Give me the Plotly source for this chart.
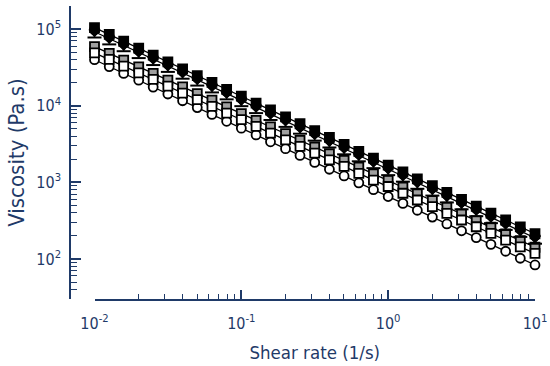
import plotly.graph_objects as go

shear_rate = [0.01, 0.0126, 0.0158, 0.02, 0.0251, 0.0316, 0.0398, 0.0501, 0.0631, 0.0794,
              0.1, 0.126, 0.158, 0.2, 0.251, 0.316, 0.398, 0.501, 0.631, 0.794,
              1, 1.26, 1.58, 2, 2.51, 3.16, 3.98, 5.01, 6.31, 7.94, 10]

black_square = [104700, 85200, 69300, 56400, 45800, 37300, 30300, 24700, 20100, 16300,
                13300, 10800, 8780, 7140, 5810, 4730, 3850, 3130, 2540, 2070,
                1680, 1370, 1110, 906, 737, 599, 487, 396, 322, 262, 213]
black_circle = [97700, 79500, 64700, 52600, 42700, 34800, 28300, 23000, 18800, 15200,
                12400, 10100, 8190, 6660, 5420, 4410, 3590, 2920, 2370, 1930,
                1570, 1280, 1040, 845, 688, 559, 454, 369, 300, 244, 199]
black_triangle = [92200, 75100, 61100, 49700, 40400, 32900, 26700, 21800, 17700, 14400,
                  11700, 9510, 7740, 6290, 5120, 4170, 3390, 2760, 2240, 1820,
                  1480, 1210, 978, 798, 649, 528, 429, 349, 284, 231, 188]
black_bar = [77600, 63100, 51400, 41800, 33900, 27600, 22500, 18300, 14900, 12100,
             9860, 8000, 6510, 5290, 4310, 3500, 2850, 2320, 1880, 1530,
             1240, 1020, 823, 671, 546, 444, 361, 293, 239, 194, 158]
gray_square = [58900, 48200, 39400, 32200, 26400, 21600, 17600, 14400, 11800, 9640,
               7890, 6450, 5280, 4320, 3530, 2890, 2360, 1930, 1580, 1290,
               1060, 865, 707, 578, 473, 387, 316, 259, 212, 173, 142]
white_square = [49000, 40100, 32800, 26800, 22000, 18000, 14600, 12000, 9820, 8020,
                6560, 5370, 4390, 3590, 2940, 2400, 1960, 1610, 1310, 1070,
                882, 720, 588, 481, 394, 322, 263, 215, 176, 144, 118]
white_circle = [39800, 32400, 26400, 21500, 17500, 14200, 11600, 9440, 7690, 6260,
                5090, 4150, 3380, 2750, 2240, 1820, 1480, 1210, 984, 801,
                652, 531, 432, 352, 286, 233, 190, 155, 126, 102, 83.4]

x_tick_vals = [0.01, 0.1, 1, 10]
x_tick_text = ["10<sup>-2</sup>", "10<sup>-1</sup>", "10<sup>0</sup>", "10<sup>1</sup>"]
y_tick_vals = [100, 1000, 10000, 100000]
y_tick_text = ["10<sup>2</sup>", "10<sup>3</sup>", "10<sup>4</sup>", "10<sup>5</sup>"]

x_minor = [m * d for d in (0.01, 0.1, 1) for m in range(2, 10)]
y_minor = [m * d for d in (10, 100, 1000, 10000, 100000) for m in range(2, 10)]

navy = "#1f3a68"
fig = go.Figure()

# connecting lines (drawn under all markers)
for ys in (black_square, black_triangle, gray_square, white_square, white_circle):
    fig.add_trace(go.Scatter(x=shear_rate, y=ys, mode="lines",
                             line=dict(color="black", width=1.3),
                             showlegend=False, hoverinfo="skip", cliponaxis=False))

markers = [
    (white_circle, "circle", "white"),
    (gray_square, "square", "#a0a0a0"),
    (white_square, "square", "white"),
    (black_bar, "line-ew", "black"),
    (black_triangle, "triangle-down", "black"),
    (black_circle, "circle", "black"),
    (black_square, "square", "black"),
]
for ys, sym, fill in markers:
    if sym == "line-ew":
        mk = dict(symbol=sym, size=10, line=dict(color="black", width=2))
    else:
        mk = dict(symbol=sym, size=9, color=fill, line=dict(color="black", width=1.8))
    fig.add_trace(go.Scatter(x=shear_rate, y=ys, mode="markers", marker=mk,
                             showlegend=False, cliponaxis=False))

font_family = "DejaVu Sans Condensed, DejaVu Sans, sans-serif"
fig.update_layout(
    width=550, height=366,
    margin=dict(l=70, r=15, t=6, b=67, autoexpand=False),
    paper_bgcolor="white", plot_bgcolor="white",
    font=dict(family=font_family, color=navy),
    xaxis=dict(
        type="log", range=[-2, 1], domain=[0.0527, 1], automargin=False,
        showgrid=False, zeroline=False, showline=True, linecolor=navy, linewidth=1.5,
        tickmode="array", tickvals=x_tick_vals, ticktext=x_tick_text,
        ticks="inside", ticklen=9, tickwidth=1.5, tickcolor=navy,
        tickfont=dict(size=16, color=navy), ticklabelstandoff=9,
        minor=dict(tickmode="array", tickvals=x_minor, ticks="inside", ticklen=5,
                   tickwidth=1.2, tickcolor=navy, showgrid=False),
        title=dict(text="Shear rate (1/s)", font=dict(size=18.5, color=navy), standoff=14),
    ),
    yaxis=dict(
        type="log", range=[1.4771, 5.30103], anchor="free", position=0, automargin=False,
        showgrid=False, zeroline=False, showline=True, linecolor=navy, linewidth=1.5,
        tickmode="array", tickvals=y_tick_vals, ticktext=y_tick_text,
        ticks="inside", ticklen=10, tickwidth=1.5, tickcolor=navy,
        tickfont=dict(size=16, color=navy), ticklabelstandoff=5,
        minor=dict(tickmode="array", tickvals=y_minor, ticks="inside", ticklen=6,
                   tickwidth=1.2, tickcolor=navy, showgrid=False),
        title=dict(text="Viscosity (Pa.s)", font=dict(size=22, color=navy), standoff=5),
    ),
)

fig.write_html("out.html", config={"displayModeBar": False},
               post_script="document.body.style.margin='0';")
